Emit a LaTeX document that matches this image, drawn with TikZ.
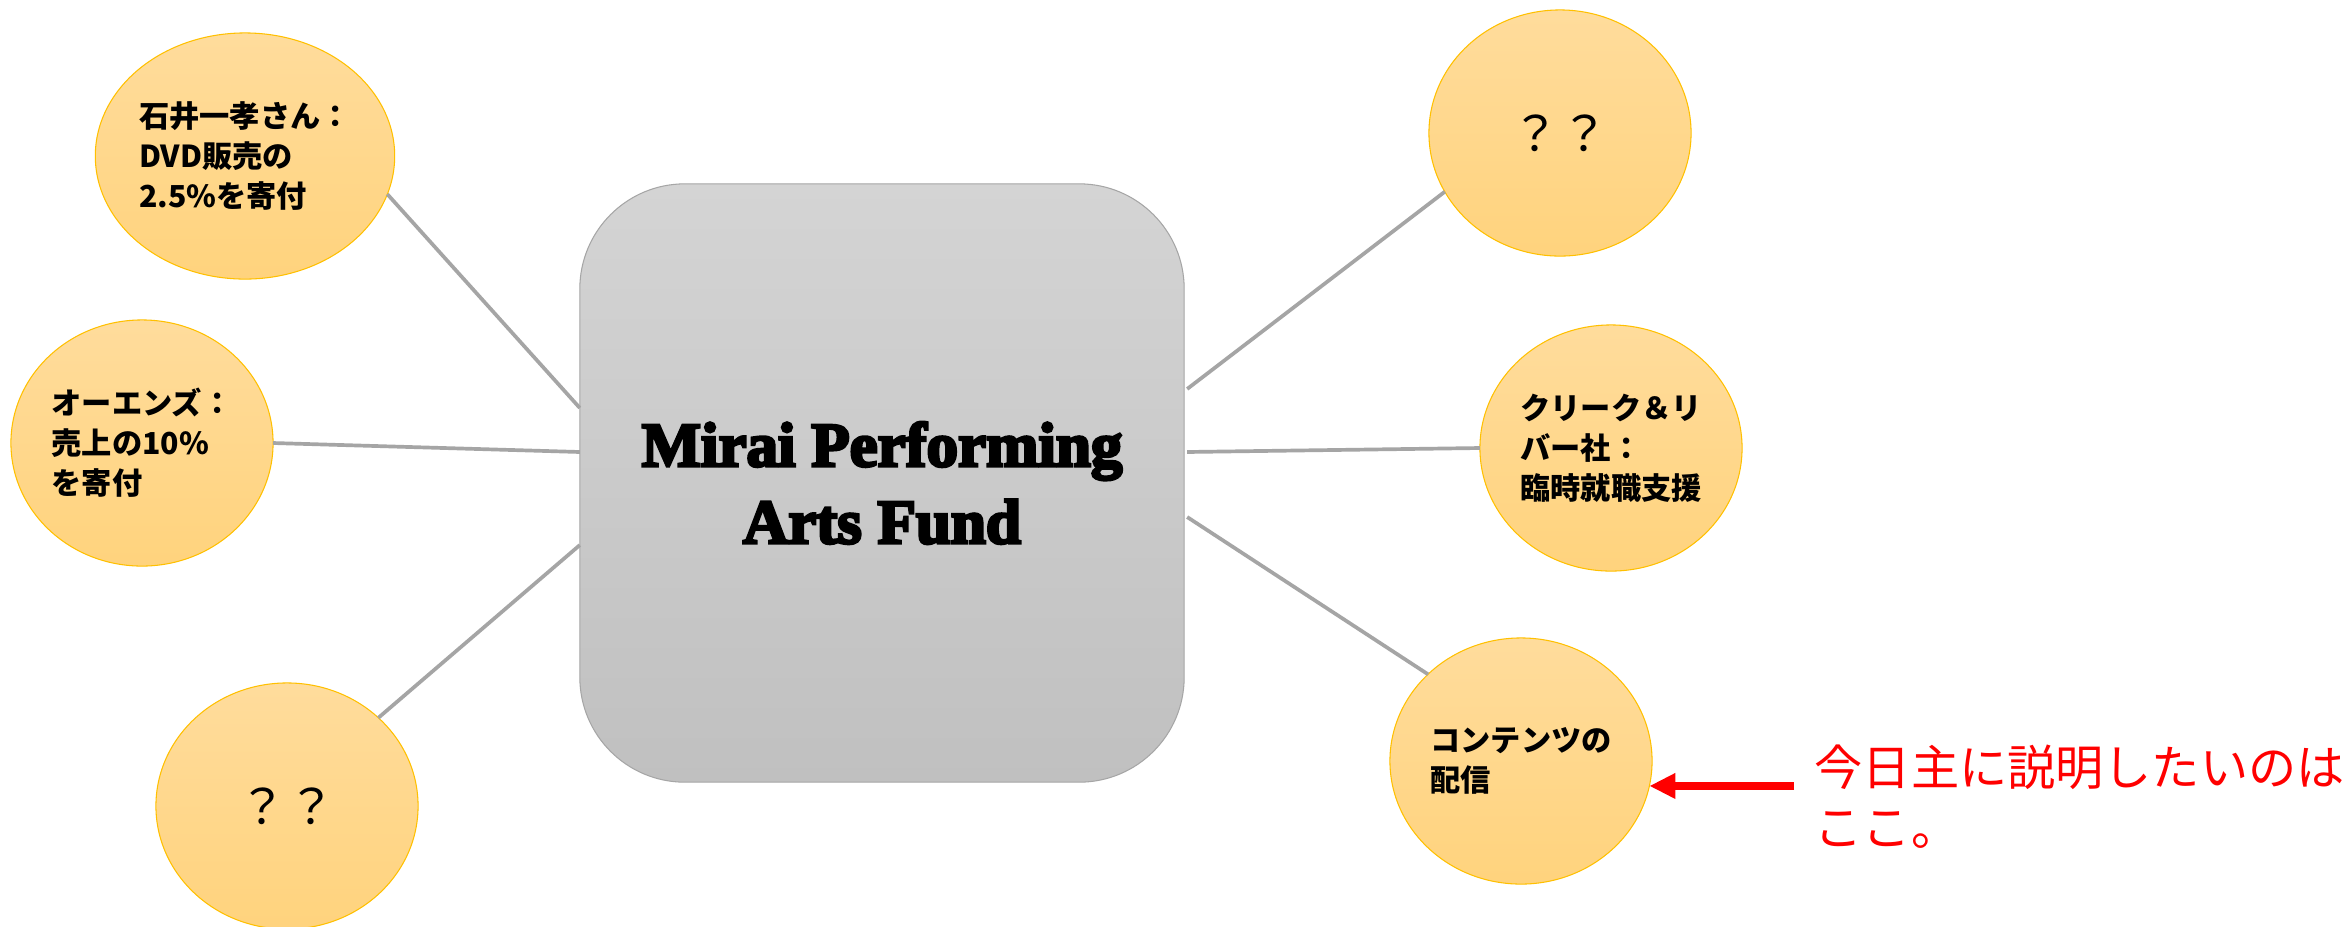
\documentclass[tikz,border=0pt]{standalone}
\usepackage{fontspec}
\usetikzlibrary{shapes.geometric,arrows.meta}
\newfontfamily\jp{Noto Sans CJK JP}
\newfontfamily\titlefont{Liberation Serif}[BoldFeatures={FakeBold=4.5}]
\definecolor{bubbletop}{HTML}{FFDC9C}
\definecolor{bubblebot}{HTML}{FFD37D}
\definecolor{bubbleline}{HTML}{FFC000}
\definecolor{boxtop}{HTML}{D4D4D4}
\definecolor{boxbot}{HTML}{C0C0C0}
\definecolor{boxline}{HTML}{A6A6A6}
\definecolor{spokegray}{HTML}{A5A5A5}
\definecolor{notered}{HTML}{FF0000}
\begin{document}
\begin{tikzpicture}[x=0.01cm,y=-0.01cm,
  bubble/.style={ellipse,draw=bubbleline,line width=0.3pt,top color=bubbletop,bottom color=bubblebot,
    minimum width=2.62cm,minimum height=2.46cm,inner sep=0pt,outer sep=0pt,align=left,
    font=\jp\bfseries\fontsize{8.6pt}{11.4pt}\selectfont},
  qmark/.style={font=\jp\fontsize{13.7pt}{16pt}\selectfont},
  fund/.style={rectangle,rounded corners=1.05cm,draw=boxline,line width=0.3pt,top color=boxtop,bottom color=boxbot,
    minimum width=6.04cm,minimum height=5.98cm,outer sep=0pt,align=center,
    font=\titlefont\bfseries\fontsize{17.9pt}{21.9pt}\selectfont},
  spoke/.style={draw=spokegray,line width=1.05pt},
  note/.style={anchor=west,align=left,inner sep=0.2cm,text=notered,font=\jp\fontsize{13.7pt}{17.1pt}\selectfont}]
\useasboundingbox (0,0) rectangle (2348,926);
\fill[white] (0,0) rectangle (2348,926);
\node[fund] (mpaf) at (882,483){Mirai Performing\\Arts Fund};
% left side
\node[bubble] (l1) at (245,156){石井一孝さん：\\DVD販売の\\2.5\%を寄付};
\node[bubble] (l2) at (142,443){オーエンズ：\\売上の10\%\\を寄付};
\node[bubble,qmark] (l3) at (287,806){？？};
% right side
\node[bubble,qmark] (r1) at (1560,133){？？};
\node[bubble] (r2) at (1611,448){クリーク＆リ\\バー社：\\臨時就職支援};
\node[bubble] (r3) at (1521,761){コンテンツの\\配信};
\node[note] (nt) at (1794,797){今日主に説明したいのは\\ここ。};
\draw[spoke] (l1.-15)--([yshift=.75cm]mpaf.west);
\draw[spoke] (l2.east)--([yshift=.31cm]mpaf.west);
\draw[spoke] (l3.44)--([yshift=-.62cm]mpaf.west);
\draw[spoke] (r1.207)--([xshift=.03cm,yshift=.94cm]mpaf.east);
\draw[spoke] (r2.west)--([xshift=.03cm,yshift=.31cm]mpaf.east);
\draw[spoke] (r3.137)--([xshift=.03cm,yshift=-.34cm]mpaf.east);
\coordinate (tip) at (r3.-11);
\draw[notered,line width=0.08cm,-{Triangle[length=0.26cm,width=0.24cm]}] (tip -| nt.west)--(tip);
\end{tikzpicture}
\end{document}
